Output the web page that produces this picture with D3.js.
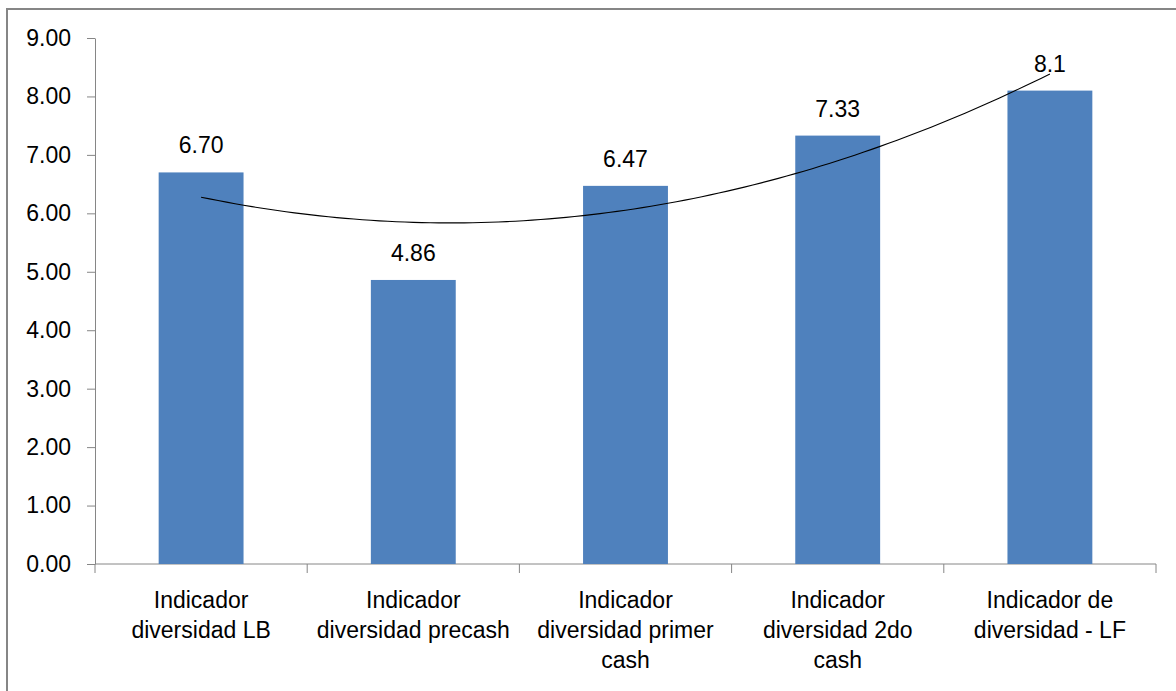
<!DOCTYPE html>
<html>
<head>
<meta charset="utf-8">
<script src="https://cdn.jsdelivr.net/npm/d3@7"></script>
<style>
  html, body { margin:0; padding:0; background:#fff; }
  svg { display:block; font-family:"Liberation Sans", Arial, sans-serif; }
</style>
</head>
<body>
<svg id="chart" width="1176" height="691"></svg>
<script>
// categorias (lineas de la etiqueta)
const categories = [
  ['Indicador', 'diversidad LB'],
  ['Indicador', 'diversidad precash'],
  ['Indicador', 'diversidad primer', 'cash'],
  ['Indicador', 'diversidad 2do', 'cash'],
  ['Indicador de', 'diversidad - LF']
];
const values = [6.70, 4.86, 6.47, 7.33, 8.1];
const valueLabels = ['6.70', '4.86', '6.47', '7.33', '8.1'];
const yTicks = [0, 1, 2, 3, 4, 5, 6, 7, 8, 9];

const svg = d3.select('#chart');
const m = { left: 95, top: 38, right: 20, bottom: 127 };
const W = 1156 - m.left, H = 564 - m.top;
const ids = categories.map((_, i) => i);

// marco
svg.append('rect')
  .attr('x', 7).attr('y', 9).attr('width', 1200).attr('height', 720)
  .attr('fill', '#fff').attr('stroke', '#868686').attr('stroke-width', 2);

const g = svg.append('g').attr('transform', `translate(${m.left},${m.top})`);

const x = d3.scaleBand().domain(ids).range([0, W]).padding(0);
const y = d3.scaleLinear().domain([0, 9]).range([H, 0]);
const barW = x.bandwidth() * 0.4;

// eje Y
const ya = g.append('g')
  .call(d3.axisLeft(y).tickValues(yTicks).tickSize(8).tickSizeOuter(0).tickPadding(16)
    .tickFormat(d3.format('.2f')));
ya.select('.domain').attr('stroke', '#868686');
ya.selectAll('.tick line').attr('stroke', '#868686');
ya.selectAll('text').attr('font-size', 23).attr('fill', '#000')
  .attr('font-family', '"Liberation Sans", Arial, sans-serif');

// eje X
g.append('line')
  .attr('x1', 0).attr('x2', W).attr('y1', H).attr('y2', H)
  .attr('stroke', '#868686');
const bounds = ids.map(i => x(i)).concat([x.range()[1]]);
g.selectAll('.xtick').data(bounds).enter().append('line')
  .attr('class', 'xtick')
  .attr('x1', d => d).attr('x2', d => d)
  .attr('y1', H).attr('y2', H + 9)
  .attr('stroke', '#868686');

// barras
g.selectAll('rect.bar').data(values).enter().append('rect')
  .attr('class', 'bar')
  .attr('x', (d, i) => x(i) + (x.bandwidth() - barW) / 2)
  .attr('y', d => y(d))
  .attr('width', barW)
  .attr('height', d => H - y(d))
  .attr('fill', '#4F81BD');

// linea de tendencia polinomica (orden 2, minimos cuadrados)
const n = values.length;
const ts = ids.map(i => i - (n - 1) / 2);
const mean = d3.mean(values);
const b1 = d3.sum(ts, (t, i) => t * values[i]) / d3.sum(ts, t => t * t);
const qm = d3.mean(ts, s => s * s);
const q = ts.map(t => t * t - qm);
const b2 = d3.sum(q, (v, i) => v * values[i]) / d3.sum(q, v => v * v);
const fit = t => mean + b1 * t + b2 * (t * t - qm);
const tr = d3.scaleLinear().domain([ts[0], ts[n - 1]])
  .range([x(0) + x.bandwidth() / 2, x(n - 1) + x.bandwidth() / 2]);
const samples = d3.range(0, 101).map(k => ts[0] + (ts[n - 1] - ts[0]) * k / 100);
g.append('path').datum(samples)
  .attr('fill', 'none').attr('stroke', '#000').attr('stroke-width', 1.1)
  .attr('d', d3.line().x(t => tr(t)).y(t => y(fit(t))));

// etiquetas de valores
g.selectAll('text.val').data(values).enter().append('text')
  .attr('class', 'val')
  .attr('x', (d, i) => x(i) + x.bandwidth() / 2)
  .attr('y', d => y(d) - 19)
  .attr('text-anchor', 'middle')
  .attr('font-size', 23).attr('fill', '#000')
  .text((d, i) => valueLabels[i]);

// etiquetas de categoria
const cl = g.selectAll('text.cat').data(categories).enter().append('text')
  .attr('class', 'cat')
  .attr('text-anchor', 'middle')
  .attr('font-size', 23).attr('fill', '#000')
  .attr('transform', (d, i) => `translate(${x(i) + x.bandwidth() / 2},${H + 44})`);
cl.selectAll('tspan').data(d => d).enter().append('tspan')
  .attr('x', 0).attr('y', (d, j) => j * 30)
  .text(d => d);
</script>
</body>
</html>
